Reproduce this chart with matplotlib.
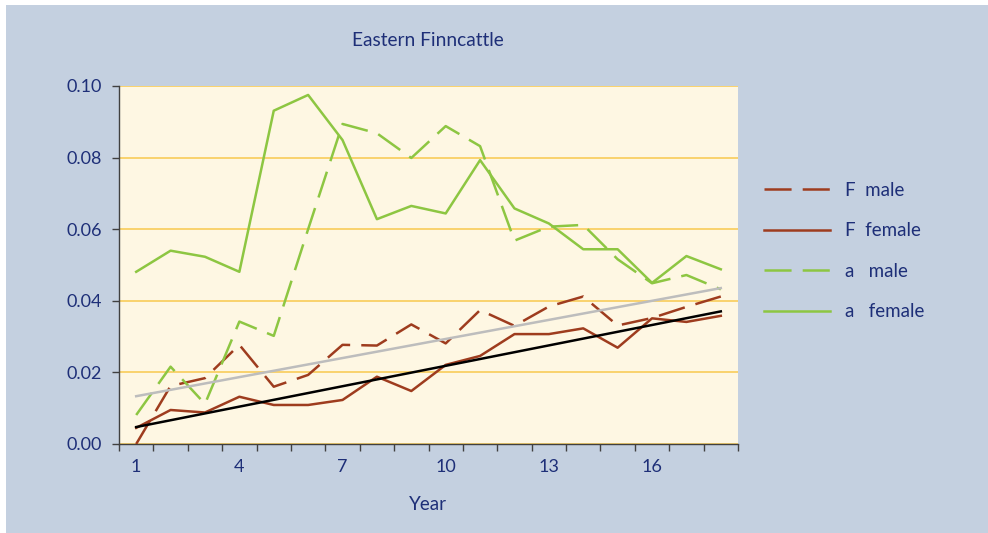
import numpy as np
import matplotlib
matplotlib.use("Agg")
import matplotlib.pyplot as plt
from matplotlib.patches import Rectangle
from matplotlib.lines import Line2D

plt.rcParams['font.family'] = ['Lato', 'DejaVu Sans']
plt.rcParams['lines.scale_dashes'] = False

years = list(range(1, 19))
F_male = [0.000, 0.0162, 0.0184, 0.0277, 0.0160, 0.0193, 0.0277, 0.0275, 0.0334,
          0.0281, 0.0374, 0.0330, 0.0384, 0.0412, 0.0331, 0.0352, 0.0383, 0.0412]
F_female = [0.0045, 0.0095, 0.0088, 0.0132, 0.0109, 0.0109, 0.0123, 0.0188, 0.0148,
            0.0221, 0.0246, 0.0307, 0.0307, 0.0323, 0.0269, 0.0351, 0.0341, 0.0358]
a_male = [0.0081, 0.0216, 0.0112, 0.0342, 0.0302, 0.0600, 0.0894, 0.0868, 0.0799,
          0.0888, 0.0832, 0.0568, 0.0607, 0.0612, 0.0516, 0.0449, 0.0472, 0.0432]
a_female = [0.0481, 0.0540, 0.0523, 0.0481, 0.0931, 0.0975, 0.0849, 0.0628, 0.0665,
            0.0644, 0.0793, 0.0658, 0.0616, 0.0544, 0.0544, 0.0450, 0.0525, 0.0488]
x_labels = [1, 4, 7, 10, 13, 16]
y_ticks = [0.00, 0.02, 0.04, 0.06, 0.08, 0.10]

title = "Eastern Finncattle"
xlabel = "Year"
labels = ["F  male", "F  female", "a   male", "a   female"]

BG = "#C4D0E0"
PLOT_BG = "#FEF7E3"
GRID = "#F9CC5A"
GREEN = "#8DC642"
BROWN = "#9E3C1E"
TEXT = "#1E2F78"

fig = plt.figure(figsize=(9.88, 5.33), dpi=100)
fig.patch.set_facecolor("white")
fig.patches.append(Rectangle((6 / 988, 0), 1 - 6 / 988, 1 - 5 / 533,
                             transform=fig.transFigure, facecolor=BG,
                             edgecolor="none", zorder=-10))

ax = fig.add_axes([119 / 988, 1 - 444 / 533, (738 - 119) / 988, (444 - 86) / 533])
ax.set_facecolor(PLOT_BG)

dash = (0, (19.5, 8.0))
lw = 1.8
ax.plot(years, F_male, color=BROWN, lw=lw, linestyle=dash, zorder=3)
ax.plot(years, F_female, color=BROWN, lw=lw, zorder=3)
ax.plot(years, a_male, color=GREEN, lw=lw, linestyle=dash, zorder=3)
ax.plot(years, a_female, color=GREEN, lw=lw, zorder=3)

# linear trend lines
xs = np.array(years, dtype=float)
p1 = np.polyfit(xs, F_male, 1)
p2 = np.polyfit(xs, F_female, 1)
ax.plot([xs[0], xs[-1]], np.polyval(p1, [xs[0], xs[-1]]), color="#BDBDBD", lw=1.8, zorder=4)
ax.plot([xs[0], xs[-1]], np.polyval(p2, [xs[0], xs[-1]]), color="black", lw=1.8, zorder=4)

ax.set_xlim(0.5, 18.5)
ax.set_ylim(0, 0.10)
ax.set_yticks(y_ticks)
ax.set_yticklabels([f"{v:.2f}" for v in y_ticks])
ax.yaxis.grid(True, color=GRID, lw=1.2)
ax.set_axisbelow(True)
ax.set_xticks(x_labels)
ax.set_xticklabels([str(v) for v in x_labels])
ax.set_xticks(np.arange(0.5, 19.0, 1.0), minor=True)
ax.tick_params(axis='x', which='major', length=0, pad=11, labelsize=13, labelcolor=TEXT)
ax.tick_params(axis='x', which='minor', length=5, width=1.0, color="#404040", direction='out')
ax.tick_params(axis='y', length=5, width=1.0, color="#404040", pad=7, labelsize=13, labelcolor=TEXT)

for s in ["top", "right"]:
    ax.spines[s].set_visible(False)
for s in ["left", "bottom"]:
    ax.spines[s].set_color("#404040")
    ax.spines[s].set_linewidth(1.0)

fig.text(428 / 988, 1 - 40 / 533, title, ha="center", va="center", fontsize=13.8, color=TEXT)
fig.text(428 / 988, 1 - 505 / 533, xlabel, ha="center", va="center", fontsize=13.5, color=TEXT)

handles = [
    Line2D([], [], color=BROWN, lw=lw, linestyle=dash),
    Line2D([], [], color=BROWN, lw=lw),
    Line2D([], [], color=GREEN, lw=lw, linestyle=(0, (19.5, 8.0))),
    Line2D([], [], color=GREEN, lw=lw),
]
fig.legend(handles, labels, loc="center left", bbox_to_anchor=(747 / 988, 1 - 251 / 533),
           frameon=False, fontsize=13.5, labelcolor=TEXT, handlelength=3.5,
           handletextpad=0.8, labelspacing=1.25)

fig.savefig("out.png", dpi=100, facecolor=fig.get_facecolor())
